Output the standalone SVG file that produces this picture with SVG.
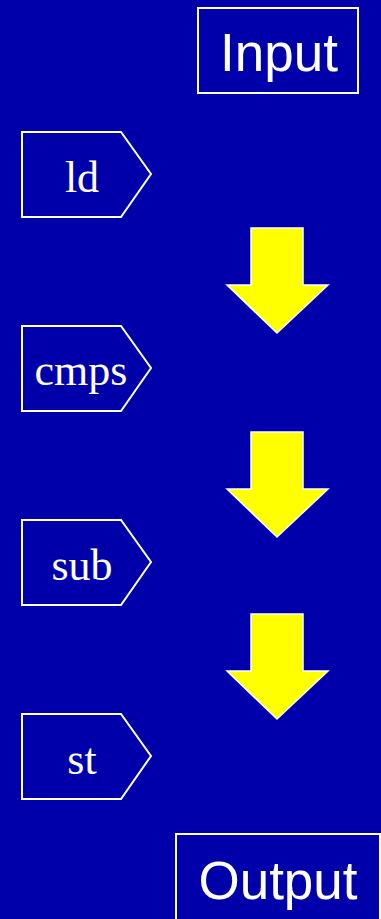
<svg xmlns="http://www.w3.org/2000/svg" width="381" height="919" viewBox="0 0 381 919">
  <defs>
    <style>
      .bg { fill: #0000AA; }
      .box { fill: none; stroke: #FFFFFF; stroke-width: 2; }
      .tag { fill: none; stroke: #FFFFFF; stroke-width: 2; stroke-linejoin: miter; }
      .io { font-family: "Liberation Sans", Arial, sans-serif; font-size: 53px; fill: #FFFFFF; text-anchor: middle; }
      .op { font-family: "Liberation Serif", serif; font-size: 44px; fill: #FFFFFF; text-anchor: middle; }
      .arrow { fill: #FFFF00; stroke: #FFFFFF; stroke-width: 1.5; stroke-linejoin: miter; }
    </style>
    <!-- pentagon tag shape, origin at top-left -->
    <path id="tagShape" d="M0,0 H99 L129,42 L99,85 H0 Z"/>
    <!-- down arrow, origin at top-left of the shaft -->
    <path id="downArrow" d="M0,0 H52 V57 H77 L26,105 L-24,57 H0 Z"/>
  </defs>

  <rect class="bg" x="0" y="0" width="381" height="919"/>

  <g id="input">
    <rect class="box" x="198" y="8" width="160" height="85"/>
    <text class="io" x="279" y="71">Input</text>
  </g>

  <g id="ld">
    <use href="#tagShape" class="tag" x="22" y="132"/>
    <text class="op" x="82" y="192">ld</text>
  </g>

  <g id="cmps">
    <use href="#tagShape" class="tag" x="22" y="326"/>
    <text class="op" x="81" y="385">cmps</text>
  </g>

  <g id="sub">
    <use href="#tagShape" class="tag" x="22" y="520"/>
    <text class="op" x="82" y="580">sub</text>
  </g>

  <g id="st">
    <use href="#tagShape" class="tag" x="22" y="714"/>
    <text class="op" x="82" y="774">st</text>
  </g>

  <g id="output">
    <rect class="box" x="176" y="834" width="204" height="90"/>
    <text class="io" x="278" y="899">Output</text>
  </g>

  <g id="connectors">
    <use href="#downArrow" class="arrow" x="251" y="228"/>
    <use href="#downArrow" class="arrow" x="251" y="432"/>
    <use href="#downArrow" class="arrow" x="251" y="614"/>
  </g>
</svg>
